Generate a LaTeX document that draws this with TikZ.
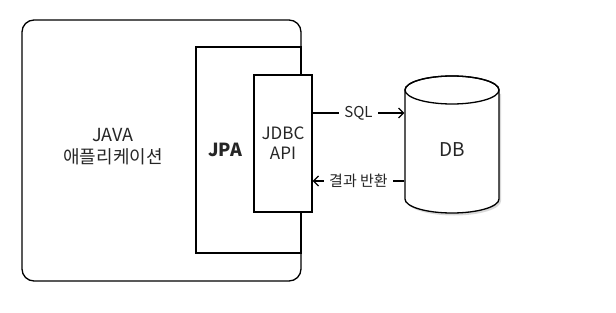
\documentclass[tikz,border=0pt]{standalone}
\usepackage{fontspec}
\setmainfont{Noto Sans CJK KR}
\usetikzlibrary{arrows.meta}
\begin{document}
\begin{tikzpicture}[x=1pt,y=-1pt,line width=1.3pt,
  txt/.style={font=\fontsize{17}{20}\selectfont, align=center, inner sep=0pt, text=black!85},
  edgelbl/.style={fill=white, font=\fontsize{15}{18}\selectfont, inner sep=5pt, text=black!85},
  arr/.style={-{Straight Barb[length=5pt,width=10pt,line width=1.2pt]}}]
\useasboundingbox (0,0) rectangle (616,313);
% application
\node[draw, rounded corners=12pt, minimum width=279pt, minimum height=261pt, inner sep=0pt] (app) at (161.5,150.5) {};
\node[txt, font=\fontsize{18}{22}\selectfont] (apptxt) at (113,147) {JAVA\\애플리케이션};
% JPA
\node[draw, fill=white, minimum width=105pt, minimum height=206pt, inner sep=0pt] (jpa) at (248.5,150) {};
\node[txt, font=\bfseries\fontsize{18}{20}\selectfont] (jpatxt) at (225,150) {JPA};
% JDBC
\node[draw, fill=white, minimum width=58pt, minimum height=137pt, txt] (jdbc) at (283,143.5) {JDBC\\API};
% app border over JPA right side
\draw (301,47) -- (301,75);
\draw (301,212) -- (301,253);
% DB cylinder
\fill[black!15] (407,94) -- (407,201) arc[start angle=180,end angle=0,x radius=47,y radius=14.5] -- (501,94) -- cycle;
\draw[fill=white] (405,90) -- (405,199) arc[start angle=180,end angle=0,x radius=47,y radius=14] -- (499,90) arc[start angle=0,end angle=-180,x radius=47,y radius=14] -- cycle;
\draw (452,90) ellipse[x radius=47,y radius=14];
\node[txt, font=\fontsize{19}{22}\selectfont, minimum width=94pt, minimum height=120pt] (db) at (452,150) {DB};
% connectors
\coordinate (ysql) at (0,113);
\coordinate (yres) at (0,181);
\draw[arr] (jdbc.east |- ysql) -- node[edgelbl]{SQL} (db.west |- ysql);
\draw[arr] (db.west |- yres) -- node[edgelbl]{결과 반환} (jdbc.east |- yres);
\end{tikzpicture}
\end{document}
